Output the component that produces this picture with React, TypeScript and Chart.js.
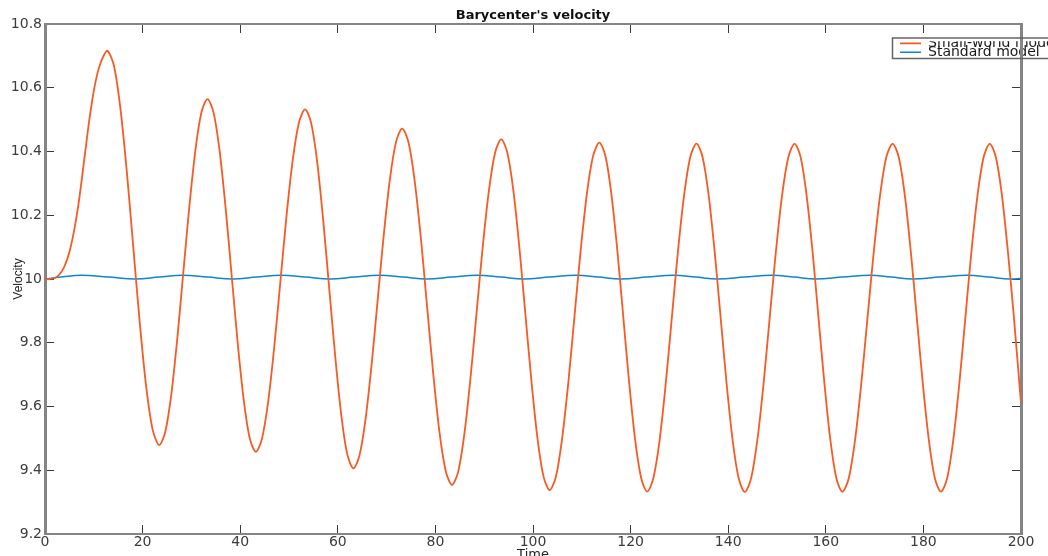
import React, { useEffect, useRef } from 'react';
import { Chart, registerables } from 'chart.js';

Chart.register(...registerables);

const chartTitle = "Barycenter's velocity";
const xAxisTitle = 'Time';
const yAxisTitle = 'Velocity';
const seriesNames = ['Small-world model', 'Standard model'];
const seriesColors = ['#f75a23', '#0f84cf'];

const xTickValues = [0, 20, 40, 60, 80, 100, 120, 140, 160, 180, 200];
const xTickLabels = ['0', '20', '40', '60', '80', '100', '120', '140', '160', '180', '200'];
const yTickValues = [9.2, 9.4, 9.6, 9.8, 10, 10.2, 10.4, 10.6, 10.8];
const yTickLabels = ['9.2', '9.4', '9.6', '9.8', '10', '10.2', '10.4', '10.6', '10.8'];

const smallWorldTime = [
  0, 1, 2, 3, 4, 5, 6, 7, 8, 9, 10, 11, 12, 12.8,
  14.13, 15.45, 16.78, 18.1, 19.43, 20.75, 22.08, 23.4,
  24.64, 25.88, 27.11, 28.35, 29.59, 30.83, 32.06, 33.3,
  34.54, 35.78, 37.01, 38.25, 39.49, 40.73, 41.96, 43.2,
  44.46, 45.73, 46.99, 48.25, 49.51, 50.78, 52.04, 53.3,
  54.54, 55.78, 57.01, 58.25, 59.49, 60.73, 61.96, 63.2,
  64.45, 65.7, 66.95, 68.2, 69.45, 70.7, 71.95, 73.2,
  74.48, 75.75, 77.03, 78.3, 79.58, 80.85, 82.13, 83.4,
  84.66, 85.93, 87.19, 88.45, 89.71, 90.98, 92.24, 93.5,
  94.74, 95.98, 97.21, 98.45, 99.69, 100.93, 102.16, 103.4,
  104.68, 105.95, 107.23, 108.5, 109.78, 111.05, 112.33, 113.6,
  114.83, 116.05, 117.28, 118.5, 119.73, 120.95, 122.18, 123.4,
  124.66, 125.93, 127.19, 128.45, 129.71, 130.98, 132.24, 133.5,
  134.74, 135.98, 137.21, 138.45, 139.69, 140.93, 142.16, 143.4,
  144.68, 145.95, 147.23, 148.5, 149.78, 151.05, 152.33, 153.6,
  154.83, 156.05, 157.28, 158.5, 159.73, 160.95, 162.18, 163.4,
  164.69, 165.98, 167.26, 168.55, 169.84, 171.13, 172.41, 173.7,
  174.94, 176.18, 177.41, 178.65, 179.89, 181.13, 182.36, 183.6,
  184.85, 186.1, 187.35, 188.6, 189.85, 191.1, 192.35, 193.6,
  194.84, 196.08, 197.31, 198.55, 200,
];
const smallWorldVelocity = [
  10.0, 10.0, 10.003, 10.015, 10.04, 10.085, 10.155, 10.25, 10.37, 10.49, 10.59, 10.66, 10.70, 10.716,
  10.669, 10.535, 10.334, 10.098, 9.861, 9.66, 9.526, 9.479,
  9.52, 9.638, 9.814, 10.022, 10.229, 10.405, 10.523, 10.564,
  10.522, 10.402, 10.223, 10.011, 9.799, 9.62, 9.5, 9.458,
  9.499, 9.615, 9.789, 9.995, 10.201, 10.375, 10.491, 10.532,
  10.489, 10.367, 10.184, 9.969, 9.754, 9.571, 9.449, 9.406,
  9.447, 9.562, 9.735, 9.939, 10.143, 10.316, 10.431, 10.472,
  10.429, 10.308, 10.127, 9.913, 9.699, 9.518, 9.397, 9.354,
  9.395, 9.513, 9.689, 9.896, 10.103, 10.279, 10.397, 10.438,
  10.396, 10.277, 10.098, 9.888, 9.678, 9.499, 9.38, 9.338,
  9.379, 9.498, 9.674, 9.883, 10.092, 10.268, 10.387, 10.428,
  10.386, 10.268, 10.09, 9.881, 9.671, 9.493, 9.375, 9.333,
  9.375, 9.493, 9.67, 9.879, 10.088, 10.265, 10.383, 10.425,
  10.383, 10.265, 10.088, 9.879, 9.669, 9.492, 9.374, 9.332,
  9.374, 9.492, 9.669, 9.878, 10.087, 10.264, 10.382, 10.424,
  10.383, 10.264, 10.087, 9.879, 9.67, 9.493, 9.374, 9.333,
  9.374, 9.493, 9.67, 9.879, 10.087, 10.264, 10.383, 10.424,
  10.383, 10.264, 10.087, 9.879, 9.67, 9.493, 9.374, 9.333,
  9.374, 9.493, 9.67, 9.879, 10.087, 10.264, 10.383, 10.424,
  10.383, 10.264, 10.087, 9.879, 9.61,
];

const standardTime = [
  0, 3.7, 7.5, 13.0, 18.6, 23.4, 28.2, 33.3, 38.5, 43.4,
  48.4, 53.4, 58.4, 63.4, 68.5, 73.4, 78.3, 83.4, 88.6, 93.4,
  98.1, 103.4, 108.7, 113.4, 118.0, 123.4, 128.8, 133.3, 137.8, 143.4,
  149.0, 153.5, 157.9, 163.5, 169.1, 173.4, 177.8, 183.4, 189.0, 193.4,
  197.8, 200,
];
const standardVelocity = [
  10.0, 10.007, 10.0115, 10.006, 10.0, 10.006, 10.0115, 10.006, 10.0, 10.006,
  10.0115, 10.006, 10.0, 10.006, 10.0115, 10.006, 10.0, 10.006, 10.0115, 10.006,
  10.0, 10.006, 10.0115, 10.006, 10.0, 10.006, 10.0115, 10.006, 10.0, 10.006,
  10.0115, 10.006, 10.0, 10.006, 10.0115, 10.006, 10.0, 10.006, 10.0115, 10.006,
  10.0, 10.0015,
];

const W = 1048;
const H = 556;
const FONT = "'DejaVu Sans', 'Liberation Sans', sans-serif";
const AXIS_GRAY = '#858585';
const TICK_DARK = '#3a3a3a';

export default function App() {
  const ref = useRef<HTMLCanvasElement>(null);

  useEffect(() => {
    const canvas = ref.current;
    if (!canvas) return;

    const legendPlacer = {
      id: 'legendPlacer',
      afterLayout(chart: any) {
        const lg = chart.legend;
        const ca = chart.chartArea;
        if (!lg || !ca) return;
        const w = lg.width;
        const h = lg.height;
        lg.left = ca.right - 121;
        lg.right = lg.left + w;
        lg.top = ca.top + 17.3;
        lg.bottom = lg.top + h;
      },
      afterDraw(chart: any) {
        const ca = chart.chartArea;
        const ctx = chart.ctx;
        ctx.save();
        ctx.strokeStyle = '#646464';
        ctx.lineWidth = 1.5;
        ctx.strokeRect(ca.right - 128.5, ca.top + 14, 220, 20.5);
        ctx.restore();
      },
    };

    const buildX = (s: any) => {
      s.ticks = xTickValues.map((v) => ({ value: v }));
    };
    const buildY = (s: any) => {
      s.ticks = yTickValues.map((v) => ({ value: v }));
    };

    const chart = new Chart(canvas, {
      type: 'line',
      data: {
        datasets: [
          {
            label: seriesNames[0],
            data: smallWorldTime.map((t, i) => ({ x: t, y: smallWorldVelocity[i] })),
            borderColor: seriesColors[0],
            backgroundColor: seriesColors[0],
            borderWidth: 1.8,
            pointRadius: 0,
            tension: 0.3,
            fill: false,
            xAxisID: 'x',
            yAxisID: 'y',
          },
          {
            label: seriesNames[1],
            data: standardTime.map((t, i) => ({ x: t, y: standardVelocity[i] })),
            borderColor: seriesColors[1],
            backgroundColor: seriesColors[1],
            borderWidth: 1.5,
            pointRadius: 0,
            tension: 0.4,
            fill: false,
            xAxisID: 'x',
            yAxisID: 'y',
          },
        ],
      },
      options: {
        animation: false,
        responsive: false,
        maintainAspectRatio: false,
        devicePixelRatio: 1,
        events: [],
        layout: { padding: 0 },
        scales: {
          x: {
            type: 'linear',
            position: 'bottom',
            min: 0,
            max: 200,
            afterBuildTicks: buildX,
            ticks: {
              autoSkip: false,
              maxRotation: 0,
              padding: 9,
              color: '#3c3c3c',
              font: { family: FONT, size: 14 },
              callback: (_v: any, i: number) => xTickLabels[i],
            },
            grid: {
              drawOnChartArea: false,
              drawTicks: true,
              tickLength: -9,
              tickColor: TICK_DARK,
              tickWidth: 1,
            },
            border: { display: true, color: AXIS_GRAY, width: 2 },
            title: {
              display: true,
              text: xAxisTitle,
              color: '#222',
              font: { family: FONT, size: 13, lineHeight: 1.2 },
              padding: { top: 0, bottom: -6 },
            },
            afterFit: (s: any) => {
              s.height = 22;
            },
          },
          xTop: {
            type: 'linear',
            position: 'top',
            min: 0,
            max: 200,
            afterBuildTicks: buildX,
            ticks: { display: false },
            grid: {
              drawOnChartArea: false,
              drawTicks: true,
              tickLength: -9,
              tickColor: TICK_DARK,
              tickWidth: 1,
            },
            border: { display: true, color: AXIS_GRAY, width: 2 },
            afterFit: (s: any) => {
              s.height = 0.4;
            },
          },
          y: {
            type: 'linear',
            position: 'left',
            min: 9.2,
            max: 10.8,
            afterBuildTicks: buildY,
            ticks: {
              autoSkip: false,
              padding: 12,
              color: '#3c3c3c',
              font: { family: FONT, size: 14 },
              callback: (_v: any, i: number) => yTickLabels[i],
            },
            grid: {
              drawOnChartArea: false,
              drawTicks: true,
              tickLength: -9,
              tickColor: TICK_DARK,
              tickWidth: 1,
            },
            border: { display: true, color: AXIS_GRAY, width: 3 },
            title: {
              display: true,
              text: yAxisTitle,
              color: '#222',
              font: { family: "'Liberation Sans', Arial, sans-serif", size: 12, lineHeight: 1.2 },
              padding: { top: 11.3, bottom: 0 },
            },
            afterFit: (s: any) => {
              s.width = 45;
            },
          },
          yRight: {
            type: 'linear',
            position: 'right',
            min: 9.2,
            max: 10.8,
            afterBuildTicks: buildY,
            ticks: { display: false },
            grid: {
              drawOnChartArea: false,
              drawTicks: true,
              tickLength: -9,
              tickColor: TICK_DARK,
              tickWidth: 1,
            },
            border: { display: true, color: AXIS_GRAY, width: 3 },
            afterFit: (s: any) => {
              s.width = 27;
            },
          },
        },
        plugins: {
          title: {
            display: true,
            text: chartTitle,
            fullSize: false,
            color: '#111',
            font: { family: FONT, size: 13, weight: 'bold', lineHeight: 1.2 },
            padding: { top: 8, bottom: 0 },
          },
          legend: {
            display: true,
            position: 'chartArea',
            align: 'start',
            labels: {
              usePointStyle: true,
              pointStyle: 'line',
              pointStyleWidth: 26,
              boxHeight: 14,
              padding: -5,
              color: '#1a1a1a',
              font: { family: FONT, size: 14 },
            },
          },
          tooltip: { enabled: false },
        },
      } as any,
      plugins: [legendPlacer],
    });

    return () => chart.destroy();
  }, []);

  return (
    <div style={{ position: 'absolute', left: 0, top: 0, width: W, height: H, background: '#fff', overflow: 'hidden' }}>
      <canvas ref={ref} width={W} height={H} style={{ display: 'block', width: W, height: H }} />
    </div>
  );
}
